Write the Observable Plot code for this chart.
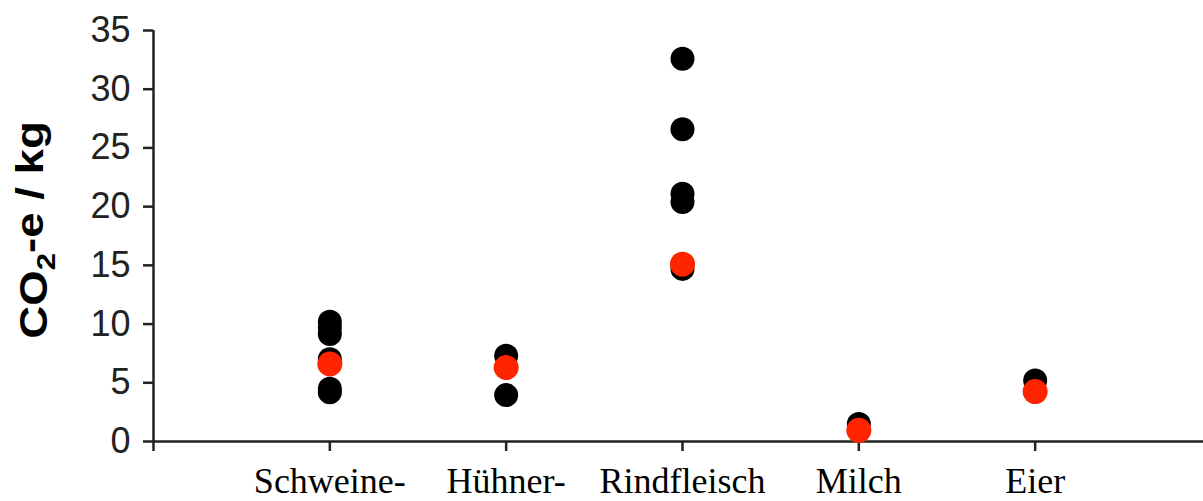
<!DOCTYPE html>
<html><head><meta charset="utf-8">
<script src="https://cdn.jsdelivr.net/npm/d3@7"></script>
<script src="https://cdn.jsdelivr.net/npm/@observablehq/plot@0.6"></script>
<style>html,body{margin:0;padding:0;background:#fff;overflow:hidden}</style>
</head><body><div id="chart"></div>
<script>
// Categories (x-axis tick labels)
const categories = ["Schweine-", "Hühner-", "Rindfleisch", "Milch", "Eier"];
// Black points: individual literature values (category, CO2-e / kg)
const blackCategory = ["Schweine-","Schweine-","Schweine-","Schweine-","Schweine-","Schweine-",
  "Hühner-","Hühner-",
  "Rindfleisch","Rindfleisch","Rindfleisch","Rindfleisch","Rindfleisch",
  "Milch",
  "Eier"];
const blackValue = [10.2, 9.7, 9.15, 7.0, 4.5, 4.2,
  7.3, 3.95,
  32.6, 26.6, 21.1, 20.4, 14.7,
  1.5,
  5.2];
// Red points: one value per category
const redValue = [6.6, 6.3, 15.1, 0.95, 4.25];
// y-axis ticks
const yTicks = [0, 5, 10, 15, 20, 25, 30, 35];

const black = blackCategory.map((c, i) => ({pos: categories.indexOf(c) + 1, value: blackValue[i]}));
const red = categories.map((c, i) => ({pos: i + 1, value: redValue[i]}));

const chart = Plot.plot({
  width: 1203, height: 501,
  marginLeft: 153, marginRight: 0, marginTop: 30, marginBottom: 60,
  style: {background: "white", overflow: "hidden"},
  x: {type: "linear", domain: [0, 6], range: [153, 1211]},
  y: {domain: [0, 35]},
  marks: [
    Plot.ruleY([0], {stroke: "#222", strokeWidth: 2.5}),
    Plot.ruleX([0], {stroke: "#222", strokeWidth: 2.5}),
    Plot.axisX({ticks: d3.range(0, 7), tickSize: 10, tickPadding: 16,
      tickFormat: i => categories[i - 1] ?? "",
      fontSize: 36, fontFamily: "Liberation Serif", stroke: "#222", strokeWidth: 2.5, fill: "#000", label: null}),
    Plot.axisY({ticks: yTicks, tickSize: 10, tickPadding: 13,
      fontSize: 36, fontFamily: "Liberation Sans", stroke: "#222", strokeWidth: 2.5, fill: "#222", label: null}),
    Plot.dot(black, {x: "pos", y: "value", r: 12, fill: "#000"}),
    Plot.dot(red, {x: "pos", y: "value", r: 12.5, fill: "#ff2400"})
  ]
});

const svg = d3.select(chart);
const t = svg.append("text")
  .attr("transform", "translate(47,230) rotate(-90) scale(1.2,1)")
  .attr("text-anchor", "middle")
  .attr("fill", "#000")
  .style("font", "bold 38px 'Liberation Sans'");
t.append("tspan").text("CO");
t.append("tspan").attr("dy", "0.3em").style("font-size", "26px").text("2");
t.append("tspan").attr("dy", "-0.3em").text("-e / kg");

document.getElementById("chart").appendChild(chart);
</script>
</body></html>
